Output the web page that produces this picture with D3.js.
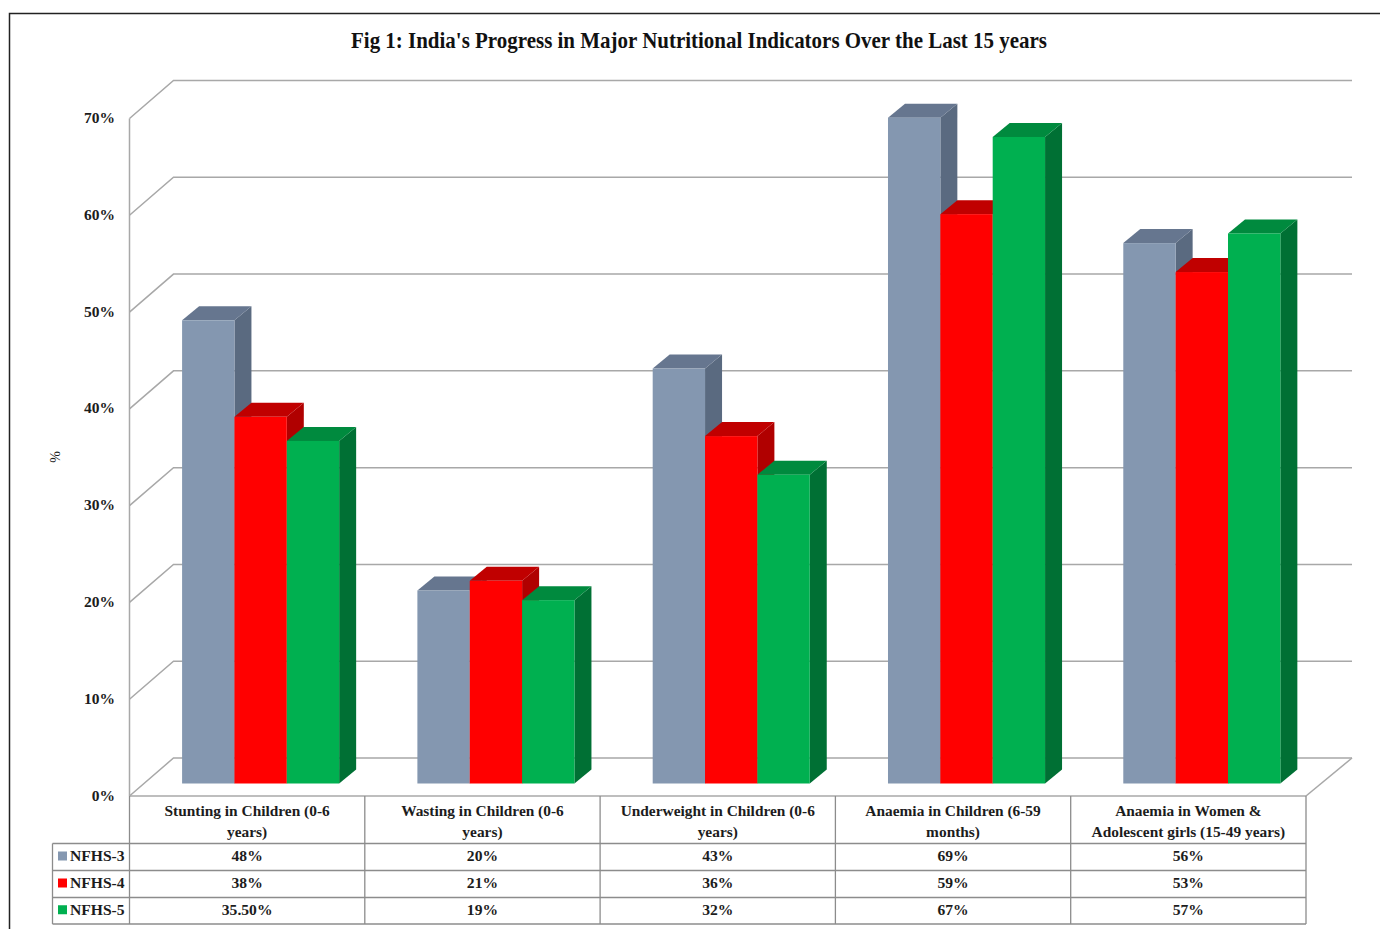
<!DOCTYPE html>
<html><head><meta charset="utf-8">
<script src="https://d3js.org/d3.v7.min.js"></script>
<style>html,body{margin:0;padding:0;background:#fff}svg{display:block}text{font-family:"Liberation Serif",serif;font-weight:bold;fill:#1c1c1c}</style>
</head><body><svg id="c" width="1380" height="929"></svg>
<script>
const title = "Fig 1: India's Progress in Major Nutritional Indicators Over the Last 15 years";
const categories = [["Stunting in Children (0-6","years)"],["Wasting in Children (0-6","years)"],["Underweight in Children (0-6","years)"],["Anaemia in Children (6-59","months)"],["Anaemia in Women &","Adolescent girls (15-49 years)"]];
const seriesNames = ["NFHS-3","NFHS-4","NFHS-5"];
const nfhs3 = [48,20,43,69,56];
const nfhs4 = [38,21,36,59,53];
const nfhs5 = [35.5,19,32,67,57];
const nfhs3Labels = ["48%","20%","43%","69%","56%"];
const nfhs4Labels = ["38%","21%","36%","59%","53%"];
const nfhs5Labels = ["35.50%","19%","32%","67%","57%"];
const yTicks = [0,10,20,30,40,50,60,70];
const colors = [{f:"#8497B0",t:"#66768f",s:"#5a6a80"},{f:"#FF0000",t:"#C00000",s:"#B00000"},{f:"#00B050",t:"#008a3e",s:"#007034"}];

const svg = d3.select("#c");
const series = [nfhs3,nfhs4,nfhs5], labels=[nfhs3Labels,nfhs4Labels,nfhs5Labels];
const L=129.5,R=1306,DX=44,DY=38;
const x = d3.scaleBand().domain(d3.range(5)).range([L,R]);
const yWall = d3.scaleLinear().domain([0,70]).range([796,118.5]);
const yBar = d3.scaleLinear().domain([0,70]).range([783.5,108]);
const gridC="#a8a8a8", tableC="#8c8c8c";

// frame
svg.append("path").attr("d","M9.5 929V13.5H1380").attr("fill","none").attr("stroke","#222").attr("stroke-width",1.5);

svg.append("text").attr("x",699).attr("y",48).attr("text-anchor","middle").attr("font-size",24)
  .attr("textLength",696).attr("lengthAdjust","spacingAndGlyphs").style("fill","#111").text(title);

// gridlines
const g=svg.append("g").attr("fill","none").attr("stroke",gridC).attr("stroke-width",1.5);
yTicks.forEach(v=>{
  const y=yWall(v);
  g.append("path").attr("d",`M${L} ${y}L${L+DX} ${y-DY}H1352`);
});
g.append("path").attr("d",`M${L} ${yWall(70)}V796`);
g.append("path").attr("d",`M${R} 796L1352 ${796-DY}`);

// y labels
svg.append("g").selectAll("text").data(yTicks).join("text")
 .attr("x",115).attr("y",v=>yWall(v)+4.5).attr("text-anchor","end").attr("font-size",15.5).text(v=>v+"%");
svg.append("text").attr("transform","translate(60,457) rotate(-90)").attr("text-anchor","middle").attr("font-size",14).style("font-weight","normal").text("%");

// bars
const bw=x.bandwidth()*0.2225, dx=17, dy=14;
const rows=d3.range(5).flatMap(i=>d3.range(3).map(s=>({i,s,v:series[s][i]})));
const bars=svg.append("g").selectAll("g").data(rows).join("g");
bars.each(function(d){
  const g=d3.select(this);
  const x0=x(d.i)+x.bandwidth()*0.2235+d.s*bw, x1=x0+bw, yt=yBar(d.v), yb=yBar(0), c=colors[d.s];
  g.append("path").attr("d",`M${x1} ${yt}L${x1+dx} ${yt-dy}V${yb-dy}L${x1} ${yb}Z`).attr("fill",c.s);
  g.append("path").attr("d",`M${x0} ${yt}L${x0+dx} ${yt-dy}H${x1+dx}L${x1} ${yt}Z`).attr("fill",c.t);
  g.append("rect").attr("x",x0).attr("y",yt).attr("width",bw).attr("height",yb-yt).attr("fill",c.f);
});

// table
const rowY=[796,843.5,870.5,897.5,924];
const t=svg.append("g").attr("fill","none").attr("stroke",tableC).attr("stroke-width",1.3);
t.append("path").attr("d",`M${L} 796H${R}`).attr("stroke",gridC).attr("stroke-width",1.5);
rowY.slice(1).forEach(y=>t.append("path").attr("d",`M52.5 ${y}H${R}`));
t.append("path").attr("d",`M52.5 ${rowY[1]}V924`);
d3.range(6).forEach(i=>t.append("path").attr("d",`M${x.range()[0]+i*x.step()} 796V924`));

categories.forEach((c,i)=>{
  c.forEach((line,k)=>svg.append("text").attr("x",x(i)+x.bandwidth()/2).attr("y",816+k*21).attr("text-anchor","middle").attr("font-size",15.4).text(line));
});
seriesNames.forEach((n,s)=>{
  const ym=(rowY[s+1]+rowY[s+2])/2;
  svg.append("rect").attr("x",58).attr("y",ym-5.5).attr("width",9).attr("height",9).attr("fill",colors[s].f);
  svg.append("text").attr("x",70).attr("y",ym+4).attr("font-size",15.6).text(n);
  labels[s].forEach((l,i)=>svg.append("text").attr("x",x(i)+x.bandwidth()/2).attr("y",ym+4).attr("text-anchor","middle").attr("font-size",15.6).text(l));
});
</script></body></html>
